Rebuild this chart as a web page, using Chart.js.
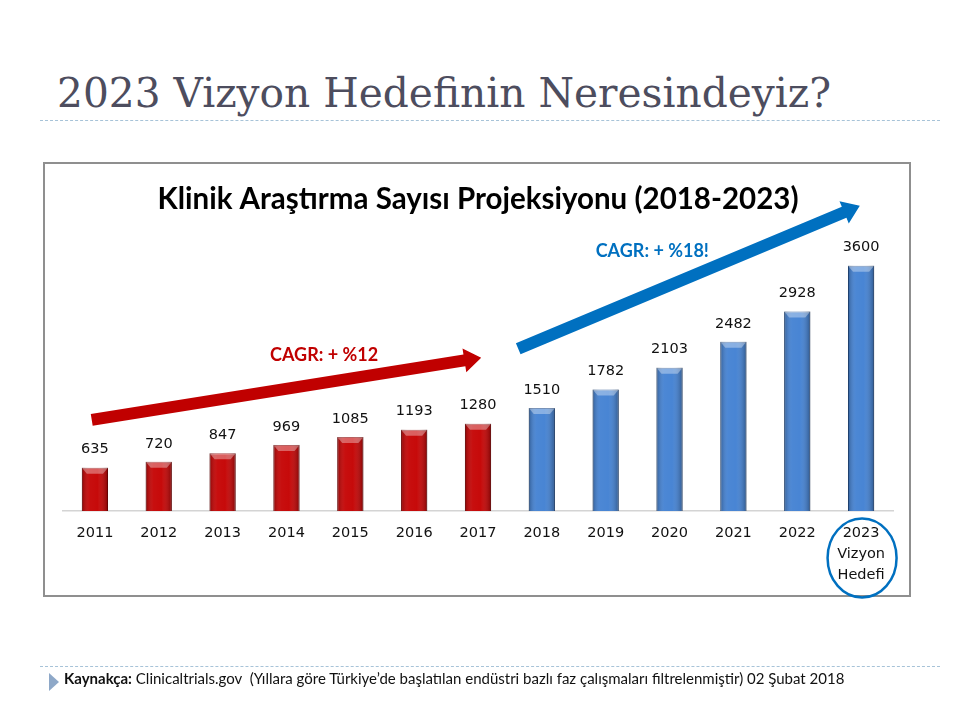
<!DOCTYPE html>
<html><head><meta charset="utf-8">
<script src="https://cdn.jsdelivr.net/npm/chart.js@4.4.1/dist/chart.umd.min.js"></script>
<style>
html,body{margin:0;padding:0;background:#fff;}
body{width:960px;height:720px;position:relative;overflow:hidden;}
#title{position:absolute;left:57px;top:69px;font-family:"DejaVu Serif",serif;font-size:40.7px;line-height:48px;color:#4d4d5e;white-space:nowrap;}
.dash{position:absolute;left:40px;width:900px;border-top:1.5px dashed #a7c3d8;}
#box{position:absolute;left:43px;top:162px;width:864px;height:431px;border:2px solid #8f8f8f;}
#foot{position:absolute;left:64px;top:669px;font-family:Lato,sans-serif;font-size:15px;line-height:18px;color:#111;white-space:nowrap;}
#tri{position:absolute;left:49px;top:673px;width:0;height:0;border-top:9px solid transparent;border-bottom:9px solid transparent;border-left:10px solid #8ea8c8;}
canvas{position:absolute;left:0;top:0;}
</style></head><body>
<div id="title">2023 Vizyon Hedefinin Neresindeyiz?</div>
<div class="dash" style="top:120px"></div>
<div id="box"></div>
<canvas id="c" width="960" height="720"></canvas>
<div class="dash" style="top:666px"></div>
<div id="tri"></div>
<div id="foot"><b>Kaynakça:</b> Clinicaltrials.gov &nbsp;(Yıllara göre Türkiye’de başlatılan endüstri bazlı faz çalışmaları filtrelenmiştir) 02 Şubat 2018</div>
<script>
// ---- data ----
const categories = ['2011','2012','2013','2014','2015','2016','2017','2018','2019','2020','2021','2022',['2023','Vizyon','Hedefi']];
const actualValues = [635, 720, 847, 969, 1085, 1193, 1280];          // 2011-2017
const projectedValues = [1510, 1782, 2103, 2482, 2928, 3600];         // 2018-2023
const values = actualValues.concat(projectedValues);
const cagrLabels = ['CAGR: + %12', 'CAGR: + %18!'];

// ---- annotation anchors (category index, value) ----
const annotations = [
  {from:[-0.05,1336], to:[6.05,2250], color:'#c00000', text:cagrLabels[0], textAt:[3.59,2291]},
  {from:[6.63,2379], to:[11.98,4479], color:'#0070c0', text:cagrLabels[1], textAt:[8.73,3818]}
];

const RED='#c40000', BLUE='#4180d2';
const colors = values.map((v,i)=> i < actualValues.length ? RED : BLUE);
const borders = values.map((v,i)=> i < actualValues.length ? '#8a0000' : '#24508f');

const barShade = {
  id:'barShade',
  afterDatasetsDraw(chart){
    const ctx=chart.ctx, meta=chart.getDatasetMeta(0);
    ctx.save();
    meta.data.forEach((b,i)=>{
      const l=b.x-b.width/2, r=b.x+b.width/2, t=b.y, bot=b.base;
      const g=ctx.createLinearGradient(l,0,r,0);
      g.addColorStop(0,'rgba(0,0,0,0.28)');
      g.addColorStop(0.3,'rgba(255,255,255,0.06)');
      g.addColorStop(0.6,'rgba(255,255,255,0.04)');
      g.addColorStop(1,'rgba(0,0,0,0.32)');
      ctx.fillStyle=g; ctx.fillRect(l,t,r-l,bot-t);
      ctx.beginPath(); ctx.moveTo(l,t); ctx.lineTo(r,t); ctx.lineTo(r-5,t+6); ctx.lineTo(l+5,t+6); ctx.closePath();
      ctx.fillStyle='rgba(255,255,255,0.35)'; ctx.fill();
      ctx.font='14.5px "DejaVu Sans"'; ctx.fillStyle='#111'; ctx.textAlign='center'; ctx.textBaseline='middle';
      ctx.fillText(String(values[i]), b.x, t-18);
    });
    ctx.restore();
  }
};

function drawArrow(ctx,x1,y1,x2,y2,color){
  const ang=Math.atan2(y2-y1,x2-x1), len=Math.hypot(x2-x1,y2-y1);
  const sw=6, hl=17, hw=12;
  ctx.save(); ctx.translate(x1,y1); ctx.rotate(ang);
  ctx.beginPath(); ctx.moveTo(0,-sw); ctx.lineTo(len-hl,-sw); ctx.lineTo(len-hl,-hw); ctx.lineTo(len,0);
  ctx.lineTo(len-hl,hw); ctx.lineTo(len-hl,sw); ctx.lineTo(0,sw); ctx.closePath();
  ctx.fillStyle=color; ctx.fill(); ctx.restore();
}

const decor = {
  id:'decor',
  afterDraw(chart){
    const ctx=chart.ctx, xs=chart.scales.x, ys=chart.scales.y;
    const px=i=>{const a=xs.getPixelForValue(0), b=xs.getPixelForValue(1); return a+(b-a)*i;};
    annotations.forEach(a=>{
      drawArrow(ctx,px(a.from[0]),ys.getPixelForValue(a.from[1]),px(a.to[0]),ys.getPixelForValue(a.to[1]),a.color);
      ctx.save(); ctx.font='bold 18px Lato'; ctx.fillStyle=a.color; ctx.textAlign='center'; ctx.textBaseline='middle';
      ctx.fillText(a.text, px(a.textAt[0]), ys.getPixelForValue(a.textAt[1])); ctx.restore();
    });
    const cx=xs.getPixelForValue(categories.length-1), cy=xs.top+47;
    ctx.save(); ctx.beginPath(); ctx.ellipse(cx+1,cy,34.5,39.5,0,0,Math.PI*2);
    ctx.strokeStyle='#0070c0'; ctx.lineWidth=2.5; ctx.stroke(); ctx.restore();
  }
};

new Chart(document.getElementById('c'),{
  type:'bar',
  data:{labels:categories, datasets:[{data:values, backgroundColor:colors, borderColor:borders, borderWidth:1, barPercentage:0.41, categoryPercentage:1}]},
  options:{
    responsive:false, animation:false, devicePixelRatio:1,
    layout:{padding:{left:63,right:67,top:170,bottom:122}},
    plugins:{
      legend:{display:false}, tooltip:{enabled:false},
      title:{display:true, text:'Klinik Araştırma Sayısı Projeksiyonu (2018-2023)', color:'#000',
        font:{family:'Lato', weight:'bold', size:29.5, lineHeight:1.2}, padding:{top:12,bottom:21}}
    },
    scales:{
      x:{grid:{display:false,drawTicks:false}, border:{display:true,color:'#d4d4d4',width:1.5},
         ticks:{font:{family:'"DejaVu Sans"',size:14.5,lineHeight:1.45}, color:'#111', padding:12, maxRotation:0, autoSkip:false}},
      y:{display:false, min:0, max:4000}
    }
  },
  plugins:[barShade, decor]
});
</script>
</body></html>
